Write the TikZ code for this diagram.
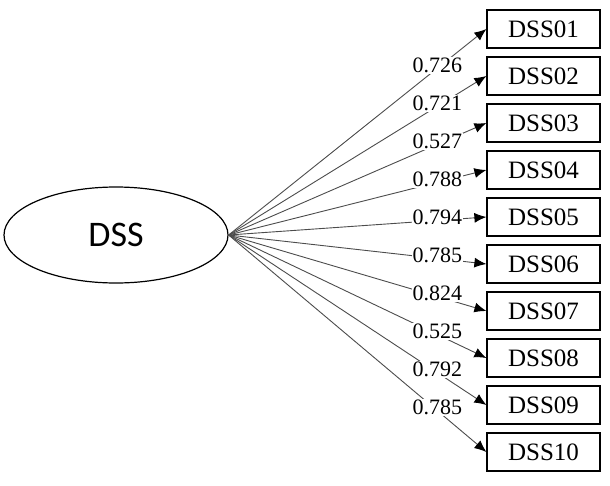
\documentclass[tikz,border=0pt]{standalone}
\usepackage{fontspec}
\setmainfont{Liberation Serif}
\newfontfamily\dssfont{Carlito}
\usetikzlibrary{shapes.geometric,arrows.meta,positioning}

\begin{document}
\begin{tikzpicture}[x=1pt,y=-1pt,
    item/.style={draw, line width=1.2pt, minimum width=113pt, minimum height=38pt, inner sep=0pt, font=\fontsize{25}{25}\selectfont},
    load/.style={-{Latex[length=12pt,width=10pt,color=black]}, draw=black!70, line width=0.9pt},
    coef/.style={fill=white, inner sep=1pt, pos=0.81, yshift=3pt, font=\fontsize{22}{22}\selectfont}]
    \useasboundingbox (0,0) rectangle (610,485);
    \node[draw, ellipse, line width=1.2pt, minimum width=224pt, minimum height=96pt, font=\dssfont\fontsize{36}{36}\selectfont] (dss) at (116,235) {DSS};
    \node[item] (dss01) at (543.5,29) {DSS01};
    \node[item] (dss02) at (543.5,76) {DSS02};
    \node[item] (dss03) at (543.5,123) {DSS03};
    \node[item] (dss04) at (543.5,170) {DSS04};
    \node[item] (dss05) at (543.5,217) {DSS05};
    \node[item] (dss06) at (543.5,264) {DSS06};
    \node[item] (dss07) at (543.5,311) {DSS07};
    \node[item] (dss08) at (543.5,358) {DSS08};
    \node[item] (dss09) at (543.5,405) {DSS09};
    \node[item] (dss10) at (543.5,452) {DSS10};
    \draw[load] (dss.east) -- node[coef] {0.726} (dss01.west);
    \draw[load] (dss.east) -- node[coef] {0.721} (dss02.west);
    \draw[load] (dss.east) -- node[coef] {0.527} (dss03.west);
    \draw[load] (dss.east) -- node[coef] {0.788} (dss04.west);
    \draw[load] (dss.east) -- node[coef] {0.794} (dss05.west);
    \draw[load] (dss.east) -- node[coef] {0.785} (dss06.west);
    \draw[load] (dss.east) -- node[coef] {0.824} (dss07.west);
    \draw[load] (dss.east) -- node[coef] {0.525} (dss08.west);
    \draw[load] (dss.east) -- node[coef] {0.792} (dss09.west);
    \draw[load] (dss.east) -- node[coef] {0.785} (dss10.west);
\end{tikzpicture}
\end{document}
